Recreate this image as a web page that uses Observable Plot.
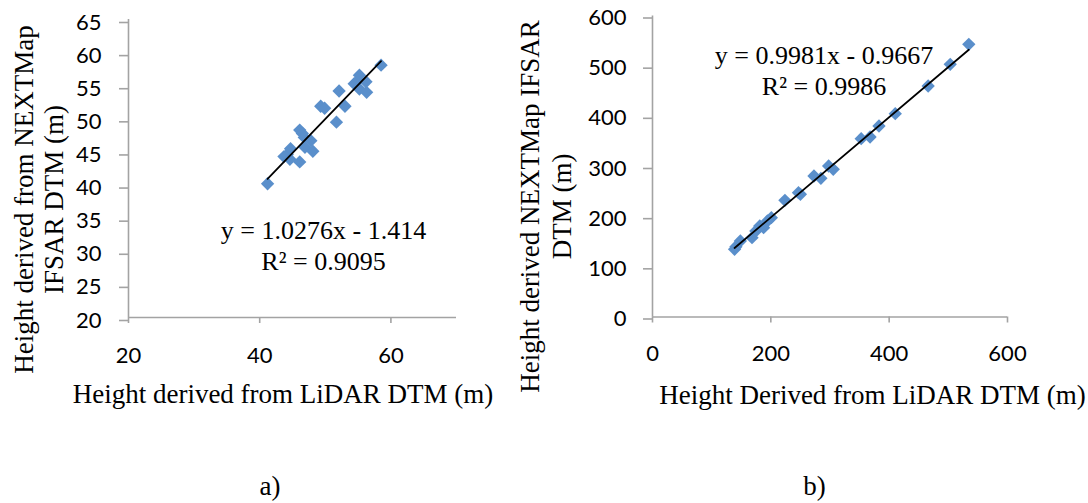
<!DOCTYPE html>
<html><head><meta charset="utf-8">
<script src="https://cdn.jsdelivr.net/npm/d3@7"></script>
<script src="https://cdn.jsdelivr.net/npm/@observablehq/plot@0.6"></script>
<style>
html,body{margin:0;padding:0;background:#fff;}
#wrap{position:relative;width:1088px;height:503px;overflow:hidden;background:#fff;}
.panel{position:absolute;top:0;}
.cap{position:absolute;width:100px;text-align:center;font-family:"Liberation Serif","Times New Roman",serif;font-size:27px;line-height:27px;color:#000;}
</style></head><body>
<div id="wrap"></div>
<script>
// Panel a) data
const leftX = [41.2,43.7,44.2,44.7,44.6,46.1,46.1,46.5,46.8,46.9,47.8,48.1,49.3,49.9,51.7,52.1,53.0,54.4,55.0,55.2,55.2,56.2,56.3,58.5];
const leftY = [40.2,44.3,44.6,45.5,43.9,43.5,48.3,47.8,47.2,45.7,46.7,45.1,51.9,51.6,49.5,54.2,51.9,55.3,55.8,56.6,54.5,55.6,54.0,58.1];
const leftFit = [1.0276, -1.414];
const leftXTicks = [20, 40, 60];
const leftYTicks = [20, 25, 30, 35, 40, 45, 50, 55, 60, 65];
const leftXDomain = [20, 70];
const leftYDomain = [20, 65];
const leftXTitle = "Height derived from LiDAR DTM (m)";
const leftYTitle = "Height derived from NEXTMap\nIFSAR DTM (m)";
const leftEq = "y = 1.0276x - 1.414\nR² = 0.9095";

// Panel b) data
const rightX = [138.7,141,148.5,168.2,174.7,181.3,187.8,194.3,200.9,223.8,246.7,250,272.9,284.6,297.7,305.5,352.7,367.7,382.8,410.3,465.9,503.2,534.6];
const rightY = [134.9,140,151.5,158.1,171.4,181.4,178,191.4,198,232.5,247.8,244.5,281,276.4,301,294.3,355.5,358.8,380.7,405.3,460.5,503.6,543.5];
const rightFit = [0.9981, -0.9667];
const rightXTicks = [0, 200, 400, 600];
const rightYTicks = [0, 100, 200, 300, 400, 500, 600];
const rightXDomain = [0, 600];
const rightYDomain = [0, 600];
const rightXTitle = "Height Derived from LiDAR DTM (m)";
const rightYTitle = "Height derived NEXTMap IFSAR\nDTM (m)";
const rightEq = "y = 0.9981x - 0.9667\nR² = 0.9986";

const captions = ["a)", "b)"];

const gray = "#a3a3a3";
const blue = "#5a8fcb";
const serif = "'Liberation Serif','Times New Roman',serif";

function panel(o) {
  const pts = o.xs.map((x, i) => ({x, y: o.ys[i]}));
  const x0 = d3.min(o.xs), x1 = d3.max(o.xs);
  const fit = [x0, x1].map(x => ({x, y: o.fit[0] * x + o.fit[1]}));
  return Plot.plot({
    width: o.width, height: 420,
    marginLeft: o.ml, marginRight: o.mr, marginTop: o.mt, marginBottom: o.mb,
    style: {fontFamily: "Lato", fontSize: "22px", color: "black", background: "transparent", overflow: "visible"},
    x: {domain: o.xd},
    y: {domain: o.yd},
    marks: [
      Plot.ruleY([o.yd[0]], {stroke: gray, strokeWidth: 1.6}),
      Plot.ruleX([o.xd[0]], {stroke: gray, strokeWidth: 1.6}),
      Plot.axisX(o.xt, {tickSize: 6, tickPadding: o.xpad, stroke: gray, strokeWidth: 1.6, fill: "black", label: null, fontSize: 22}),
      Plot.axisY(o.yt, {tickSize: 9, tickPadding: o.ypad, stroke: gray, strokeWidth: 1.6, fill: "black", label: null, fontSize: 22, dy: o.ydy}),
      Plot.dot(pts, {x: "x", y: "y", symbol: "diamond2", r: 6, fill: blue, stroke: null}),
      Plot.line(fit, {x: "x", y: "y", stroke: "black", strokeWidth: 1.8}),
      Plot.text([o.yTitle], {frameAnchor: "left", rotate: -90, dx: o.ytdx, dy: o.ytdy, fontFamily: serif, fontSize: 27, lineHeight: o.ylh, textAnchor: "middle", lineAnchor: "middle", fill: "black"}),
      Plot.text([o.xTitle], {frameAnchor: "bottom", dx: o.xtdx, dy: o.xtdy, fontFamily: serif, fontSize: 27, textAnchor: "middle", lineAnchor: "middle", fill: "black"}),
      Plot.text([o.eq], {frameAnchor: "middle", dx: o.edx, dy: o.edy, fontFamily: serif, fontSize: 26, lineHeight: 1.19, textAnchor: "middle", lineAnchor: "middle", fill: "black"})
    ]
  });
}

const wrap = document.getElementById("wrap");

const a = panel({
  xs: leftX, ys: leftY, fit: leftFit, xt: leftXTicks, yt: leftYTicks, xd: leftXDomain, yd: leftYDomain,
  width: 480, ml: 128, mr: 24, mt: 19, mb: 103,
  xpad: 24, ypad: 18, ydy: 3,
  yTitle: leftYTitle, ytdx: -90, ytdy: 31, ylh: 1.11,
  xTitle: leftXTitle, xtdx: -9.5, xtdy: 77,
  eq: leftEq, edx: 31, edy: 76
});
a.classList.add("panel"); a.style.left = "0px";
wrap.appendChild(a);

const b = panel({
  xs: rightX, ys: rightY, fit: rightFit, xt: rightXTicks, yt: rightYTicks, xd: rightXDomain, yd: rightYDomain,
  width: 608, ml: 172, mr: 81, mt: 15.5, mb: 103.5,
  xpad: 22.5, ypad: 17, ydy: 2,
  yTitle: rightYTitle, ytdx: -108, ytdy: 40, ylh: 1.185,
  xTitle: rightXTitle, xtdx: 42.5, xtdy: 78,
  eq: rightEq, edx: -6, edy: -96.8
});
b.classList.add("panel"); b.style.left = "480px";
wrap.appendChild(b);

[[captions[0], 220], [captions[1], 764.5]].forEach(([t, left]) => {
  const d = document.createElement("div");
  d.className = "cap";
  d.textContent = t;
  d.style.left = left + "px";
  d.style.top = "473px";
  wrap.appendChild(d);
});
</script>
</body></html>
